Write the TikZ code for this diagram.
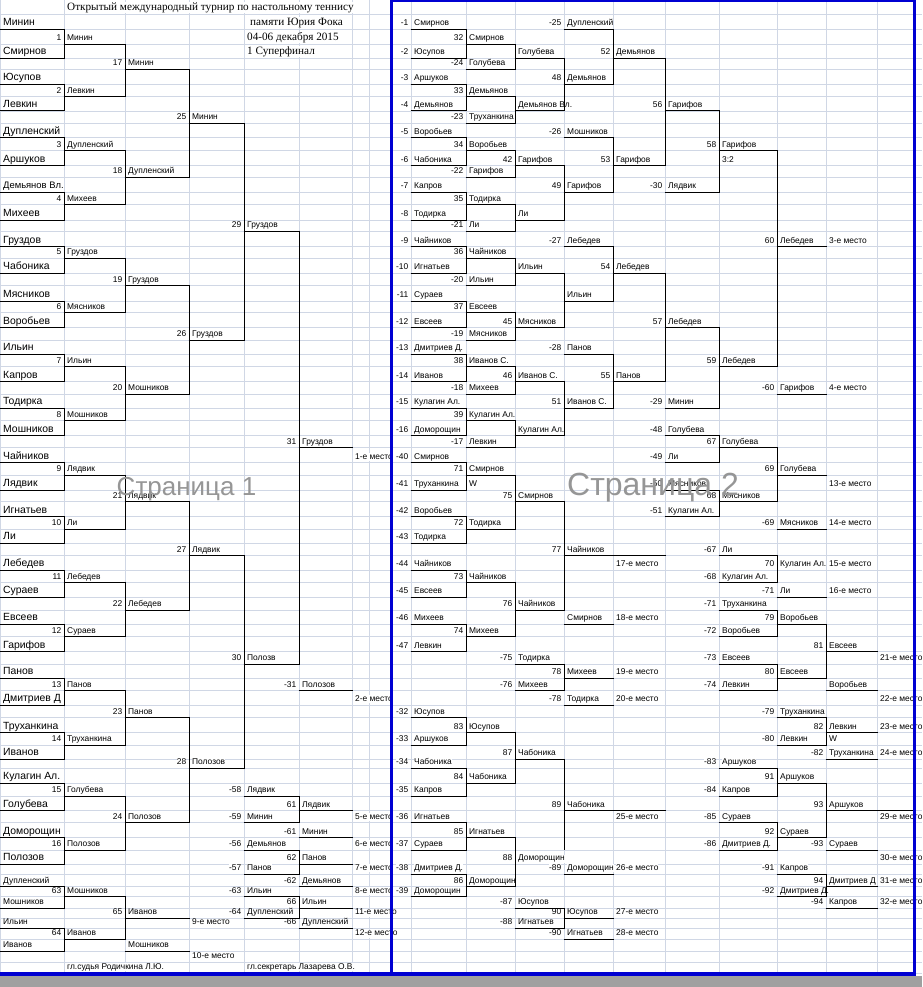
\documentclass[tikz,border=0pt]{standalone}
\usepackage{fontspec}
\setmainfont{Liberation Sans}
\newfontfamily\seriff{Liberation Serif}
\definecolor{gridc}{RGB}{208,215,229}
\definecolor{pgblue}{RGB}{0,0,210}
\definecolor{outgray}{RGB}{160,160,160}
\definecolor{wmgray}{RGB}{150,150,150}
\newcommand\smf{\fontsize{8.4}{9}\selectfont}
\newcommand\bgf{\fontsize{10.4}{12}\selectfont}
\newcommand\ttf{\seriff\fontsize{11.2}{13}\selectfont}
\def\RB{{14,29.3,44.3,58.3,69.3,84.3,96.7,111,123.3,137.7,150.7,165.7,177.3,192.3,204.7,220,231,246.7,258.3,273.3,285.7,301,312.7,327.7,340,354.3,366.7,381.7,394,408.3,420.7,435.7,447.7,462.7,475,490,501.7,516.7,529,543.3,555.7,570,582.7,597.3,610,624.3,636.7,651.7,664,678.3,690.7,705,717.7,732.7,745,759,768.3,783.3,796,810.7,822.7,837.7,850,864.3,874,886.7,896.7,908.3,918.3,928.3,939.3,951,962,973}}
\def\CX{{0,64,125,189,244,299,352,369,391,411,466,515,564,613,665,719,777,826,877,914}}
\tikzset{
  sm/.style={font=\smf, inner sep=0pt, fill=white, text height=6.2pt, text depth=1.8pt},
  bg/.style={font=\bgf, inner sep=0pt, fill=white, text height=7.8pt, text depth=2.2pt},
  ttl/.style={font=\ttf, inner sep=0pt, fill=white, text height=8.5pt, text depth=2.6pt},
  brd/.style={line width=1pt, black},
  grd/.style={line width=0.8pt, gridc},
}
\newif\ifzlines
% text helpers (drawn in the text pass)
\newcommand\zN[3]{\ifzlines\else\node[sm,anchor=base west] at ({\CX[#2]+3},{\RB[#1]-3.5}) {#3};\fi}
\newcommand\zR[3]{\ifzlines\else\node[sm,anchor=base east] at ({\CX[#2]-2.5},{\RB[#1]-3.5}) {#3};\fi}
\newcommand\zB[3]{\ifzlines\else\node[bg,anchor=base west] at ({\CX[#2]+3},{\RB[#1]-3.5}) {#3};\fi}
% line helpers (drawn in the line pass)
\newcommand\zH[3]{\ifzlines\draw[brd] ({\CX[#2]-0.5},{\RB[#1]}) -- ({\CX[#3]+0.5},{\RB[#1]});\fi}
\newcommand\zV[3]{\ifzlines\draw[brd] ({\CX[#1]},{\RB[#2]}) -- ({\CX[#1]},{\RB[#3]});\fi}
% number + name + underline
\newcommand\zW[4]{\zR{#1}{#2}{#3}\zN{#1}{#2}{#4}\pgfmathtruncatemacro\zzn{#2+1}\zH{#1}{#2}{\zzn}}
\newcommand\zdata{%
% ---------- page 1: players
\foreach \r/\n in {1/Минин,3/Смирнов,5/Юсупов,7/Левкин,9/Дупленский,11/Аршуков,15/Михеев,17/Груздов,19/Чабоника,21/Мясников,23/Воробьев,25/Ильин,27/Капров,29/Тодирка,31/Мошников,33/Чайников,35/Лядвик,37/Игнатьев,39/Ли,41/Лебедев,43/Сураев,45/Евсеев,47/Гарифов,49/Панов,51/Дмитриев Д,53/Труханкина,55/Иванов,57/Кулагин Ал.,59/Голубева,61/Доморощин,63/Полозов}
  {\zB{\r}{0}{\n}\zH{\r}{0}{1}}
\ifzlines\else\node[bg,font=\fontsize{9.4}{11}\selectfont,anchor=base west] at (3,{\RB[13]-3.5}) {Демьянов Вл.};\fi
\zH{13}{0}{1}
\foreach \k in {0,...,15} {\pgfmathtruncatemacro\ra{4*\k+1}\pgfmathtruncatemacro\rb{4*\k+3}\zV{1}{\ra}{\rb}}
\foreach \k/\n in {1/Минин,2/Левкин,3/Дупленский,4/Михеев,5/Груздов,6/Мясников,7/Ильин,8/Мошников,9/Лядвик,10/Ли,11/Лебедев,12/Сураев,13/Панов,14/Труханкина,15/Голубева,16/Полозов}
  {\pgfmathtruncatemacro\rr{4*\k-2}\zW{\rr}{1}{\k}{\n}}
\foreach \j/\n in {17/Минин,18/Дупленский,19/Груздов,20/Мошников,21/Лядвик,22/Лебедев,23/Панов,24/Полозов}
  {\pgfmathtruncatemacro\rr{8*(\j-17)+4}\pgfmathtruncatemacro\ra{8*(\j-17)+2}\pgfmathtruncatemacro\rb{8*(\j-17)+6}\zV{2}{\ra}{\rb}\zW{\rr}{2}{\j}{\n}}
\foreach \j/\n in {25/Минин,26/Груздов,27/Лядвик,28/Полозов}
  {\pgfmathtruncatemacro\rr{16*(\j-25)+8}\pgfmathtruncatemacro\ra{16*(\j-25)+4}\pgfmathtruncatemacro\rb{16*(\j-25)+12}\zV{3}{\ra}{\rb}\zW{\rr}{3}{\j}{\n}}
\zV{4}{8}{24}\zV{4}{40}{56}
\zW{16}{4}{29}{Груздов}
\zW{48}{4}{30}{Полозв}
\zV{5}{16}{48}
\zW{32}{5}{31}{Груздов}
\zN{33}{6}{1-е место}
\zW{50}{5}{-31}{Полозов}
\zN{51}{6}{2-е место}
% places 5-8, 11-12
\zW{58}{4}{-58}{Лядвик}\zW{60}{4}{-59}{Минин}\zV{5}{58}{60}
\zW{59}{5}{61}{Лядвик}\zN{60}{6}{5-е место}
\zW{61}{5}{-61}{Минин}\zN{62}{6}{6-е место}
\zW{62}{4}{-56}{Демьянов}\zW{64}{4}{-57}{Панов}\zV{5}{62}{64}
\zW{63}{5}{62}{Панов}\zN{64}{6}{7-е место}
\zW{65}{5}{-62}{Демьянов}\zN{66}{6}{8-е место}
\zW{66}{4}{-63}{Ильин}\zW{68}{4}{-64}{Дупленский}\zV{5}{66}{68}
\zW{67}{5}{66}{Ильин}\zN{68}{6}{11-е место}
\zW{69}{5}{-66}{Дупленский}\zN{70}{6}{12-е место}
% places 9-10
\zN{65}{0}{Дупленский}\zH{65}{0}{1}
\zN{67}{0}{Мошников}\zH{67}{0}{1}\zV{1}{65}{67}
\zW{66}{1}{63}{Мошников}
\zN{69}{0}{Ильин}\zH{69}{0}{1}
\zN{71}{0}{Иванов}\zH{71}{0}{1}\zV{1}{69}{71}
\zW{70}{1}{64}{Иванов}
\zV{2}{66}{70}
\zW{68}{2}{65}{Иванов}\zN{69}{3}{9-е место}
\zN{71}{2}{Мошников}\zH{71}{2}{3}\zN{72}{3}{10-е место}
\zN{73}{1}{гл.судья Родичкина Л.Ю.}
% ---------- page 2: losers round 1
\foreach \m/\a/\b/\c/\d in {0/Смирнов/Смирнов/Юсупов/Голубева,1/Аршуков/Демьянов/Демьянов/Труханкина,2/Воробьев/Воробьев/Чабоника/Гарифов,3/Капров/Тодирка/Тодирка/Ли,4/Чайников/Чайников/Игнатьев/Ильин,5/Сураев/Евсеев/Евсеев/Мясников,6/Дмитриев Д./Иванов С./Иванов/Михеев,7/Кулагин Ал./Кулагин Ал./Доморощин/Левкин}
 {\pgfmathtruncatemacro\ra{4*\m+1}\pgfmathtruncatemacro\rb{4*\m+2}\pgfmathtruncatemacro\rc{4*\m+3}\pgfmathtruncatemacro\rd{4*\m+4}%
  \pgfmathtruncatemacro\na{-(2*\m+1)}\pgfmathtruncatemacro\nb{32+\m}\pgfmathtruncatemacro\nc{-(2*\m+2)}\pgfmathtruncatemacro\nd{-(24-\m)}%
  \zW{\ra}{9}{\na}{\a}\zW{\rc}{9}{\nc}{\c}\zV{10}{\ra}{\rc}%
  \zW{\rb}{10}{\nb}{\b}\zW{\rd}{10}{\nd}{\d}\zV{11}{\rb}{\rd}}
\zW{3}{11}{}{Голубева}\zW{7}{11}{}{Демьянов Вл.}\zV{12}{3}{7}
\zW{11}{11}{42}{Гарифов}\zW{15}{11}{}{Ли}\zV{12}{11}{15}
\zW{19}{11}{}{Ильин}\zW{23}{11}{45}{Мясников}\zV{12}{19}{23}
\zW{27}{11}{46}{Иванов С.}\zW{31}{11}{}{Кулагин Ал.}\zV{12}{27}{31}
\zW{1}{12}{-25}{Дупленский}\zW{5}{12}{48}{Демьянов}\zV{13}{1}{5}
\zW{9}{12}{-26}{Мошников}\zW{13}{12}{49}{Гарифов}\zV{13}{9}{13}
\zW{17}{12}{-27}{Лебедев}\zW{21}{12}{}{Ильин}\zV{13}{17}{21}
\zW{25}{12}{-28}{Панов}\zW{29}{12}{51}{Иванов С.}\zV{13}{25}{29}
\zW{3}{13}{52}{Демьянов}\zW{11}{13}{53}{Гарифов}\zV{14}{3}{11}
\zW{19}{13}{54}{Лебедев}\zW{27}{13}{55}{Панов}\zV{14}{19}{27}
\zW{7}{14}{56}{Гарифов}\zW{13}{14}{-30}{Лядвик}\zV{15}{7}{13}
\zW{23}{14}{57}{Лебедев}\zW{29}{14}{-29}{Минин}\zV{15}{23}{29}
\zW{10}{15}{58}{Гарифов}\zN{11}{15}{3:2}
\zW{26}{15}{59}{Лебедев}\zV{16}{10}{26}
\zW{17}{16}{60}{Лебедев}\zN{17}{17}{3-е место}
\zW{28}{16}{-60}{Гарифов}\zN{28}{17}{4-е место}
% places 13-16
\zW{31}{14}{-48}{Голубева}\zW{33}{14}{-49}{Ли}\zV{15}{31}{33}
\zW{32}{15}{67}{Голубева}
\zW{35}{14}{-50}{Мясников}\zW{37}{14}{-51}{Кулагин Ал.}\zV{15}{35}{37}
\zW{36}{15}{68}{Мясников}
\zV{16}{32}{36}
\zW{34}{16}{69}{Голубева}\zN{35}{17}{13-е место}
\zW{38}{16}{-69}{Мясников}\zN{38}{17}{14-е место}
\zW{40}{15}{-67}{Ли}\zW{42}{15}{-68}{Кулагин Ал.}\zV{16}{40}{42}
\zR{41}{16}{70}\zN{41}{16}{Кулагин Ал.}\zN{41}{17}{15-е место}
\zW{43}{16}{-71}{Ли}\zN{43}{17}{16-е место}
% places 17-20
\zW{33}{9}{-40}{Смирнов}\zW{35}{9}{-41}{Труханкина}\zV{10}{33}{35}
\zW{34}{10}{71}{Смирнов}\zN{35}{10}{W}
\zW{37}{9}{-42}{Воробьев}\zW{39}{9}{-43}{Тодирка}\zV{10}{37}{39}
\zW{38}{10}{72}{Тодирка}
\zV{11}{34}{38}\zW{36}{11}{75}{Смирнов}
\zW{41}{9}{-44}{Чайников}\zW{43}{9}{-45}{Евсеев}\zV{10}{41}{43}
\zW{42}{10}{73}{Чайников}
\zW{45}{9}{-46}{Михеев}\zW{47}{9}{-47}{Левкин}\zV{10}{45}{47}
\zW{46}{10}{74}{Михеев}
\zV{11}{42}{46}\zW{44}{11}{76}{Чайников}
\zV{12}{36}{44}\zW{40}{12}{77}{Чайников}\zH{40}{13}{14}\zN{41}{13}{17-е место}
\zN{45}{12}{Смирнов}\zH{45}{12}{13}\zN{45}{13}{18-е место}
\zW{48}{11}{-75}{Тодирка}\zW{50}{11}{-76}{Михеев}\zV{12}{48}{50}
\zW{49}{12}{78}{Михеев}\zN{49}{13}{19-е место}
\zW{51}{12}{-78}{Тодирка}\zN{51}{13}{20-е место}
% places 21-24
\zW{44}{15}{-71}{Труханкина}\zW{46}{15}{-72}{Воробьев}\zV{16}{44}{46}
\zW{45}{16}{79}{Воробьев}
\zW{48}{15}{-73}{Евсеев}\zW{50}{15}{-74}{Левкин}\zV{16}{48}{50}
\zW{49}{16}{80}{Евсеев}
\zV{17}{45}{49}\zW{47}{17}{81}{Евсеев}\zN{48}{18}{21-е место}
\zN{50}{17}{Воробьев}\zH{50}{17}{18}\zN{51}{18}{22-е место}
\zW{52}{16}{-79}{Труханкина}\zW{54}{16}{-80}{Левкин}\zV{17}{52}{54}
\zW{53}{17}{82}{Левкин}\zN{53}{18}{23-е место}\zN{54}{17}{W}
\zW{55}{17}{-82}{Труханкина}\zN{55}{18}{24-е место}
% places 25-28
\zW{52}{9}{-32}{Юсупов}\zW{54}{9}{-33}{Аршуков}\zV{10}{52}{54}
\zW{53}{10}{83}{Юсупов}
\zW{56}{9}{-34}{Чабоника}\zW{58}{9}{-35}{Капров}\zV{10}{56}{58}
\zW{57}{10}{84}{Чабоника}
\zV{11}{53}{57}\zW{55}{11}{87}{Чабоника}
\zW{60}{9}{-36}{Игнатьев}\zW{62}{9}{-37}{Сураев}\zV{10}{60}{62}
\zW{61}{10}{85}{Игнатьев}
\zW{64}{9}{-38}{Дмитриев Д.}\zW{66}{9}{-39}{Доморощин}\zV{10}{64}{66}
\zW{65}{10}{86}{Доморощин}
\zV{11}{61}{65}\zR{63}{11}{88}\zN{63}{11}{Доморощин}
\zV{12}{55}{62}\zW{59}{12}{89}{Чабоника}\zH{59}{13}{14}\zN{60}{13}{25-е место}
\zW{64}{12}{-89}{Доморощин}\zN{64}{13}{26-е место}
\zW{67}{11}{-87}{Юсупов}\zW{69}{11}{-88}{Игнатьев}\zV{12}{67}{69}
\zW{68}{12}{90}{Юсупов}\zN{68}{13}{27-е место}
\zW{70}{12}{-90}{Игнатьев}\zN{70}{13}{28-е место}
% places 29-32
\zW{56}{15}{-83}{Аршуков}\zW{58}{15}{-84}{Капров}\zV{16}{56}{58}
\zW{57}{16}{91}{Аршуков}
\zW{60}{15}{-85}{Сураев}\zW{62}{15}{-86}{Дмитриев Д.}\zV{16}{60}{62}
\zW{61}{16}{92}{Сураев}
\zV{17}{57}{61}\zW{59}{17}{93}{Аршуков}\zH{59}{18}{19}\zN{60}{18}{29-е место}
\zW{62}{17}{-93}{Сураев}\zN{63}{18}{30-е место}
\zW{64}{16}{-91}{Капров}\zW{66}{16}{-92}{Дмитриев Д.}\zV{17}{64}{66}
\zW{65}{17}{94}{Дмитриев Д}\zN{65}{18}{31-е место}
\zW{67}{17}{-94}{Капров}\zN{67}{18}{32-е место}
}
\begin{document}
\begin{tikzpicture}[x=1pt,y=-1pt]
\useasboundingbox (0,0) rectangle (922,987);
\fill[white] (0,0) rectangle (922,987);
% grid
\foreach \i in {0,...,19} \draw[grd] ({\CX[\i]},0) -- ({\CX[\i]},973);
\foreach \j in {0,...,73} \draw[grd] (0,{\RB[\j]}) -- (922,{\RB[\j]});
% title
\node[ttl,anchor=base west] (t0) at (67,10.5) {Открытый международный турнир по настольному теннису};
\node[ttl,anchor=base west] (t1) at (250,{\RB[1]-3.5}) {памяти Юрия Фока};
\node[ttl,anchor=base west] (t2) at (247,{\RB[2]-3.5}) {04-06 декабря 2015};
\node[ttl,anchor=base west] (t3) at (247,{\RB[3]-3.5}) {1 Суперфинал};
\node[sm,anchor=base west] (sec) at (247,{\RB[73]-3.5}) {гл.секретарь Лазарева О.В.};
% text pass, then line pass
\zlinesfalse\zdata
\zlinestrue\zdata
% watermarks and page frame
\node[font=\fontsize{26}{28}\selectfont, text=wmgray, anchor=base, inner sep=0pt] (wm1) at (186.5,495) {Страница 1};
\node[font=\fontsize{32}{34}\selectfont, text=wmgray, anchor=base, inner sep=0pt] (wm2) at (653,495) {Страница 2};
\fill[outgray] (0,975.7) rectangle (922,987);
\draw[pgblue, line width=3pt] (391,0) -- (391,974);
\draw[pgblue, line width=2.5pt] (391,1.2) -- (916,1.2);
\draw[pgblue, line width=3.3pt] (914.3,0) -- (914.3,975.7);
\draw[pgblue, line width=3.4pt] (0,974) -- (916,974);
\end{tikzpicture}
\end{document}
